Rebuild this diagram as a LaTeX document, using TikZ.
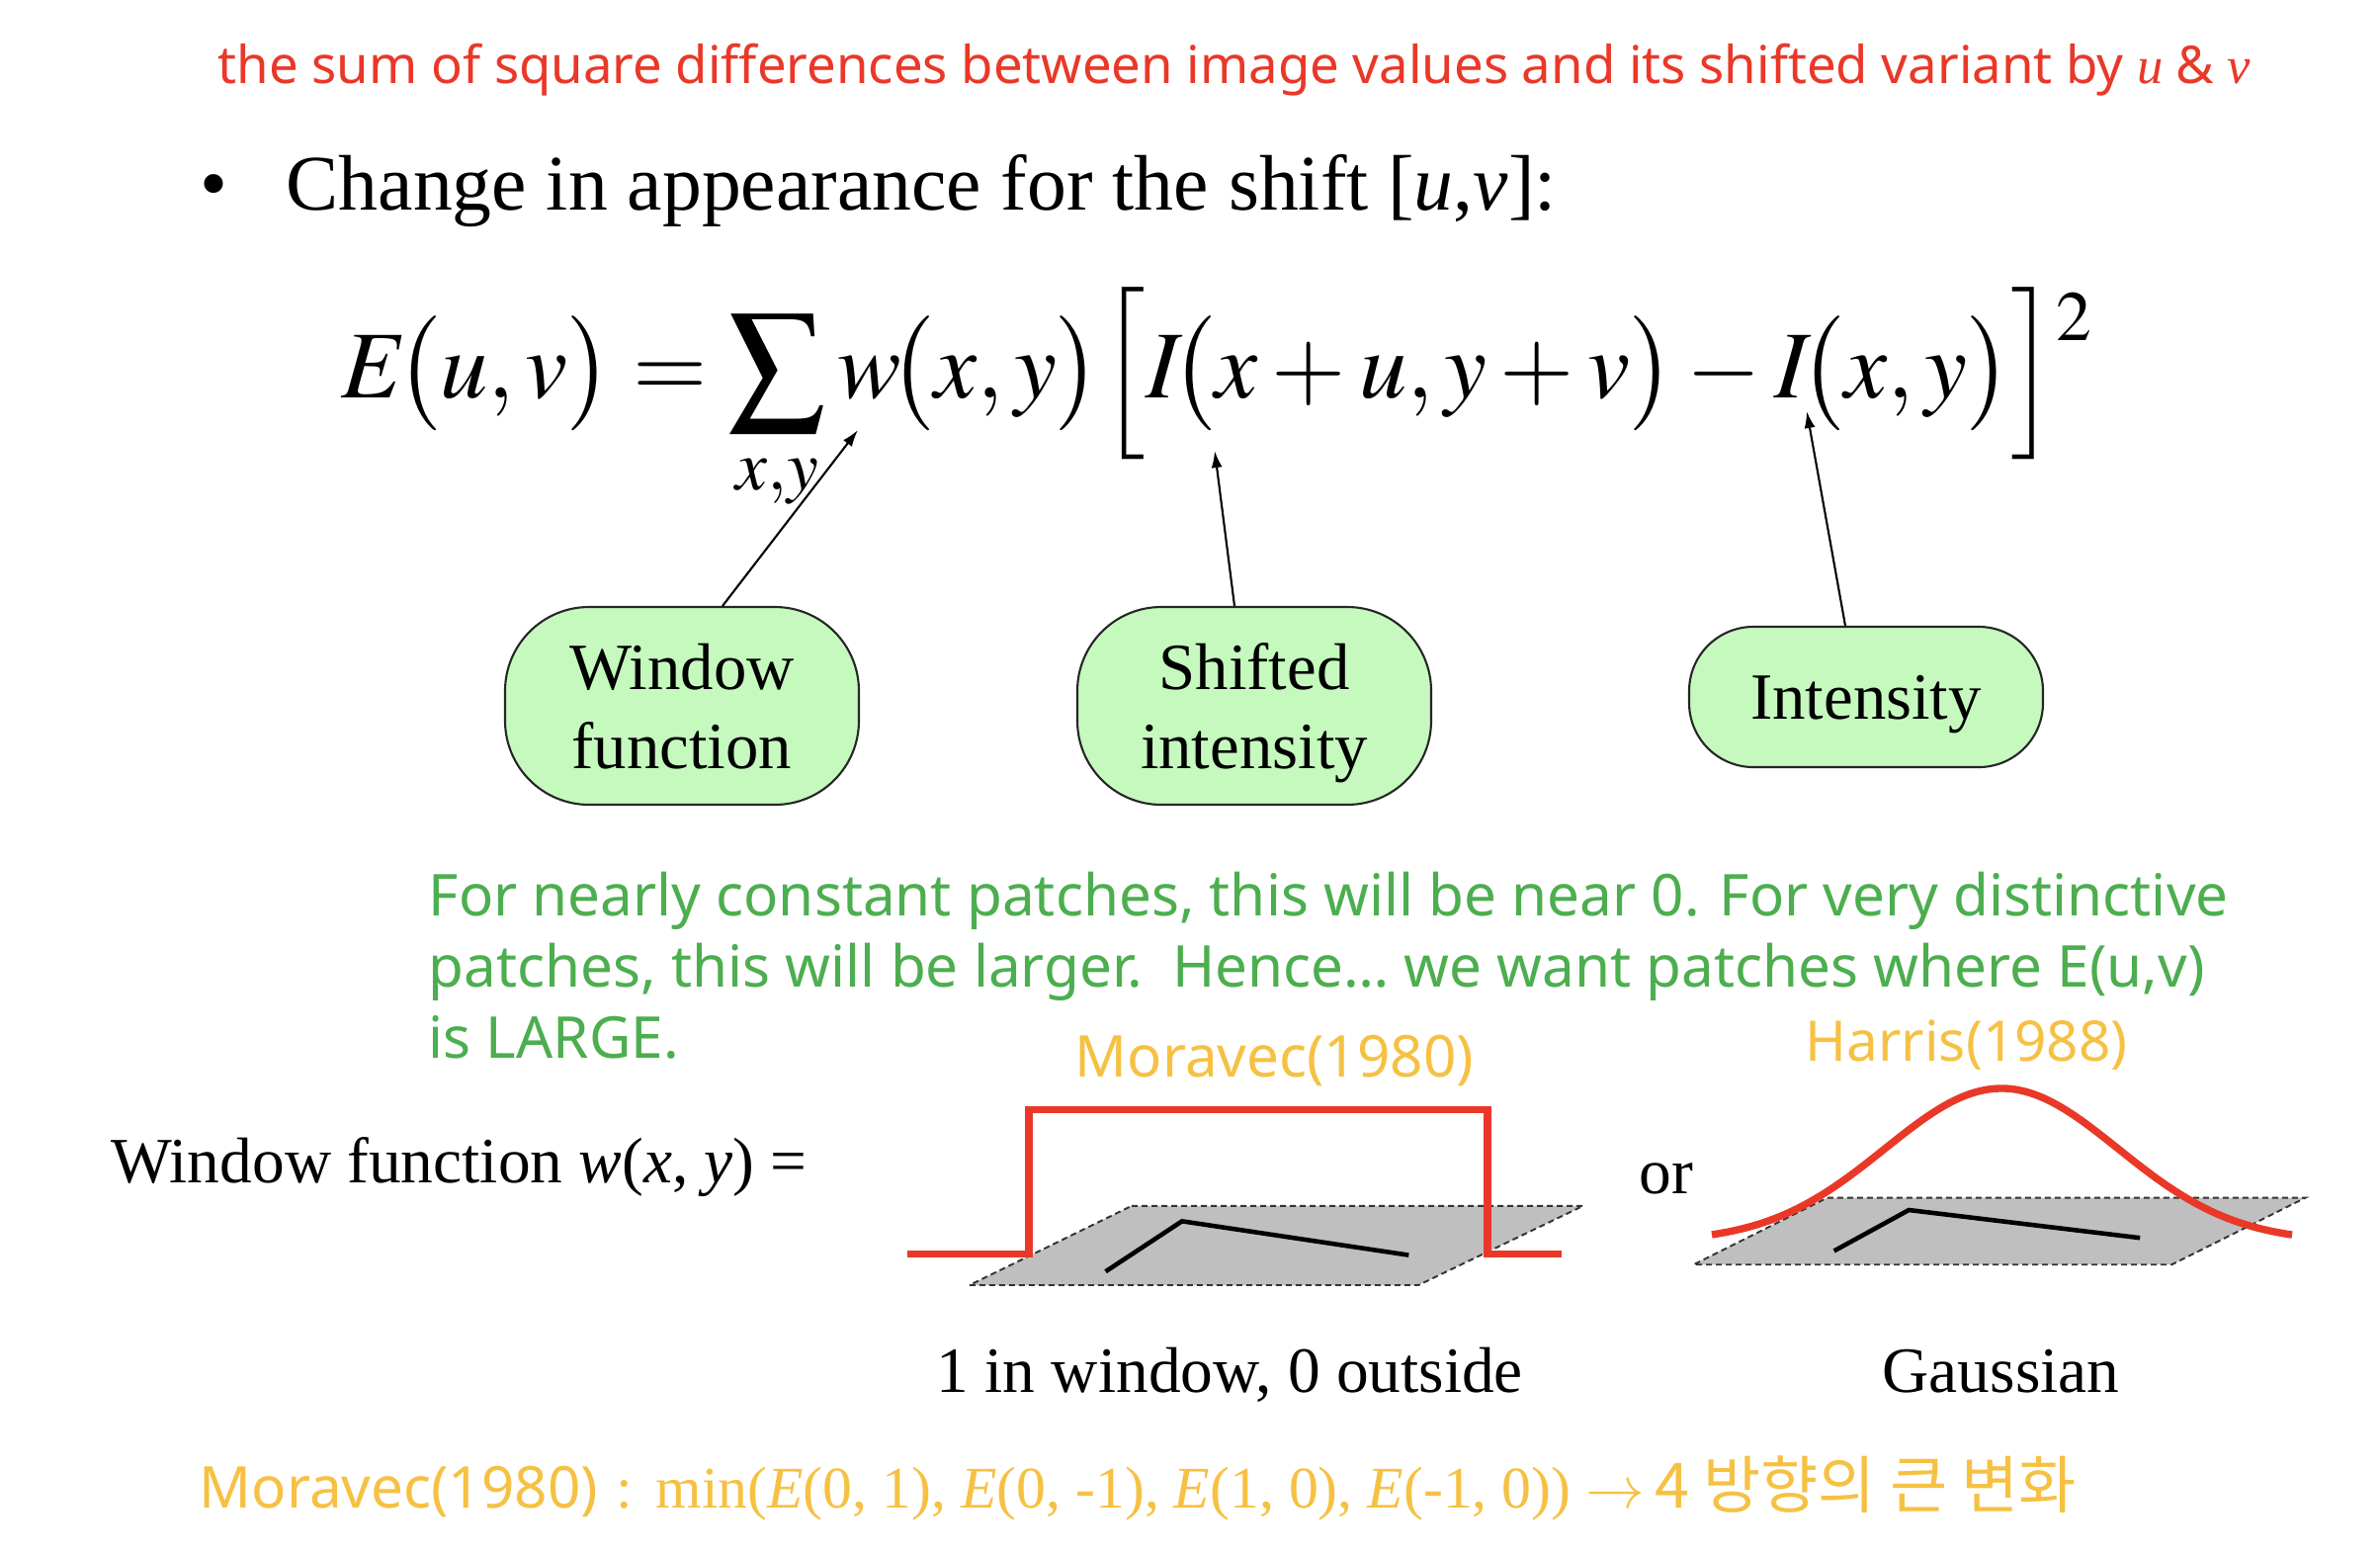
\documentclass[tikz,border=0pt]{standalone}
\usepackage{mathptmx}
\usepackage{fontspec}
\setmainfont{Liberation Serif}
\newfontfamily\sansf{Noto Sans}
\newfontfamily\krf{Noto Sans CJK KR}
\usepackage{graphicx}
\usetikzlibrary{arrows.meta,calc}
\definecolor{topred}{RGB}{234,56,40}
\definecolor{txtgreen}{RGB}{76,174,79}
\definecolor{gold}{RGB}{246,193,67}
\definecolor{boxgreen}{RGB}{197,249,190}
\definecolor{patchgray}{RGB}{191,191,191}
\definecolor{curvered}{RGB}{234,56,40}
\newlength\glen
\AtBeginDocument{%
  \settowidth\glen{\fontsize{10}{12}\selectfont\sansf For nearly constant patches, this will be near 0. For very distinctive}%
  \pgfmathsetmacro\gtmp{182.1mm/\glen}%
  \global\let\gs\gtmp}
\newcommand\gsans[1]{\scalebox{\gs}{\fontsize{10}{12}\selectfont\sansf #1}}
\begin{document}
\begin{tikzpicture}[x=0.1mm,y=-0.1mm,
  gbox/.style={draw=black!85, line width=0.6pt, fill=boxgreen, align=center,
    font=\fontsize{19}{22.8}\selectfont, inner sep=0pt, minimum width=35.8mm,
    text depth=0pt},
  arr/.style={-{Latex[length=1.7mm,width=1.1mm]}, line width=0.6pt},
  redln/.style={draw=curvered, line width=2.1pt},
  patch/.style={fill=patchgray, draw=black!80, dash pattern=on 0.6mm off 0.4mm, line width=0.55pt},
  blk/.style={draw=black, line width=1.3pt},
  txt/.style={inner sep=0pt, anchor=base west},
  tms/.style={txt, font=\fontsize{18.6}{22}\selectfont},
]
\useasboundingbox[fill=white] (0,0) rectangle (2408,1574);

% top red note
\node[txt, text=topred] (top) at (220,84) {\resizebox{205.6mm}{!}{\sansf the sum of square differences between image values and its shifted variant by \rmfamily\itshape u {\sansf\upshape\&} v}};

% bullet line
\node[txt] (bul) at (202,212) {\fontsize{22.7}{27}\selectfont •};
\node[txt] (head) at (289,212) {\resizebox{128.5mm}{!}{Change in appearance for the shift [\textit{u},\textit{v}]:}};

% equation
\node[txt] (eq) at (345,402) {\resizebox{177.5mm}{!}{$\displaystyle E\!\bigl(u,v\bigr)=\sum_{x,y} w\!\bigl(x,y\bigr)\Bigl[I\!\bigl(x+u,y+v\bigr)-I\!\bigl(x,y\bigr)\Bigr]^{\raisebox{-0.6ex}{$\scriptstyle 2$}}$}};

% boxes
\node[gbox, minimum height=20mm, rounded corners=8.5mm] (win) at (690,714) {Window\\function};
\node[gbox, minimum height=20mm, rounded corners=8.5mm] (shi) at (1269,714) {Shifted\\intensity};
\node[gbox, minimum height=14.2mm, rounded corners=6.5mm] (int) at (1888,705) {Intensity};

\coordinate (tW) at (868,435);
\coordinate (tS) at (1229,456);
\coordinate (tI) at (1828,416);
\draw[arr] ($(win.north)+(41,0)$) -- (tW);
\draw[arr] ($(shi.north)+(-20,0)$) -- (tS);
\draw[arr] ($(int.north)+(-21,0)$) -- (tI);

% green text
\node[txt, text=txtgreen] (g1) at (433,926) {\gsans{For nearly constant patches, this will be near 0. For very distinctive}};
\node[txt, text=txtgreen] (g2) at (433,998) {\gsans{patches, this will be larger.\ \ Hence… we want patches where E(u,v)}};
\node[txt, text=txtgreen] (g3) at (433,1070) {\gsans{is LARGE.}};

% labels
\node[txt, text=gold] (mor) at (1087,1089) {\gsans{Moravec(1980)}};
\node[txt, text=gold] (har) at (1826,1073) {\scalebox{0.97}{\gsans{Harris(1988)}}};

\node[tms] (wf) at (112,1196) {Window function \textit{w}(\textit{x}, \textit{y}) =};
\node[tms] (or) at (1658,1207) {or};
\node[tms] (l1) at (947,1408) {1 in window, 0 outside};
\node[tms] (l2) at (1904,1408) {Gaussian};

% Moravec window
\path[patch] (1145,1219.8) -- (1601.8,1219.8) -- (1435,1300) -- (980.9,1300) -- cycle;
\draw[blk] (1118.6,1286.2) -- (1195.9,1235.3) -- (1425.3,1269.6);
\draw[redln] (918,1268.5) -- (1041,1268.5) -- (1041,1122.6) -- (1505,1122.6) -- (1505,1268.5) -- (1580,1268.5);

% Harris window
\path[patch] (1848.8,1211.6) -- (2332.5,1211.6) -- (2197.3,1279.2) -- (1713.5,1279.2) -- cycle;
\draw[blk] (1855.6,1265.4) -- (1931.3,1224) -- (2165.2,1252.2);
\draw[redln] plot[domain=1732:2319, samples=100, smooth] (\x,{1256-155*exp(-0.5*(((\x-2025)/118)^2))});

% bottom line
\node[txt, text=gold, font=\fontsize{17}{20}\selectfont] (bot) at (201,1525) {\gsans{Moravec(1980)}\hspace{1.8mm}:\hspace{2.4mm}min(\textit{E}(0, 1), \textit{E}(0, -1), \textit{E}(1, 0), \textit{E}(-1, 0))\hspace{1.5mm}$\rightarrow$\hspace{1mm}{\krf\fontsize{18}{20}\selectfont 4 방향의 큰 변화}};
\end{tikzpicture}
\end{document}
